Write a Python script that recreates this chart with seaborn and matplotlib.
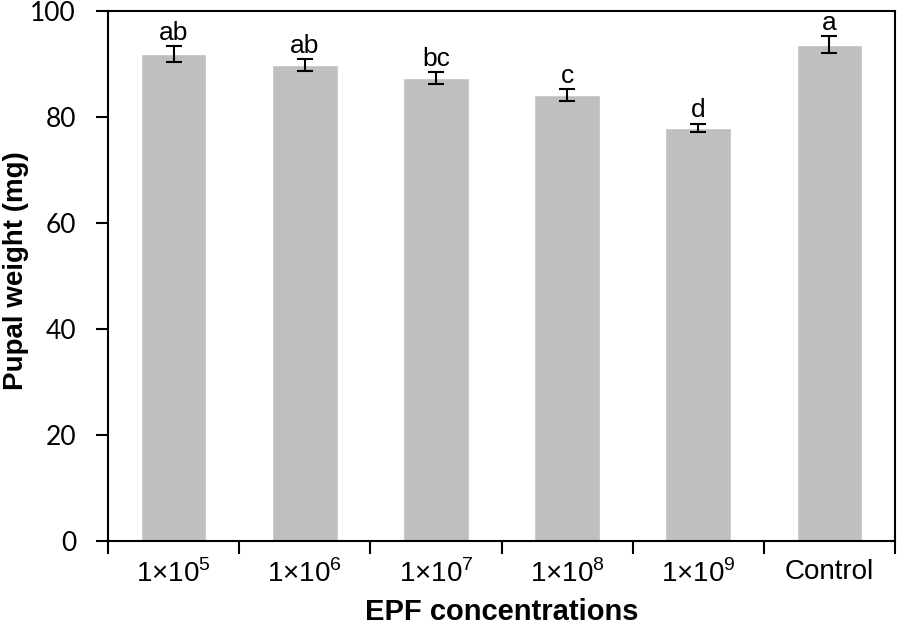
import seaborn as sns
import matplotlib.pyplot as plt
from matplotlib.ticker import MultipleLocator, FixedLocator

# values
concentrations = ["1×10$^5$", "1×10$^6$", "1×10$^7$", "1×10$^8$", "1×10$^9$", "Control"]
pupal_weight = [91.9, 89.8, 87.4, 84.2, 77.9, 93.6]
std_err = [1.5, 1.1, 1.1, 1.1, 0.8, 1.6]
letters = ["ab", "ab", "bc", "c", "d", "a"]


def plot_data(output):
    sns.set_style("ticks")
    plt.rcParams["font.family"] = ["Liberation Sans", "DejaVu Sans"]
    plt.rcParams["mathtext.fontset"] = "custom"
    plt.rcParams["mathtext.rm"] = "Liberation Sans"
    for key in ["text.color", "axes.labelcolor", "xtick.color", "ytick.color"]:
        plt.rcParams[key] = "black"

    fig = plt.figure(figsize=(8.97, 6.28), dpi=100)
    ax = fig.add_axes([0.1204, 0.1385, 0.8774, 0.844])

    sns.barplot(x=concentrations, y=pupal_weight, color="#BFBFBF", width=0.5,
                saturation=1, ax=ax)

    # error bars and significance letters on top of each bar
    for i, bar in enumerate(ax.patches):
        xc = bar.get_x() + bar.get_width() / 2
        ax.errorbar(xc, pupal_weight[i], yerr=std_err[i], color="black",
                    elinewidth=1.5, capsize=5.5, capthick=1.5, fmt="none")
        ax.annotate(letters[i], (xc, pupal_weight[i] + std_err[i]),
                    xytext=(0, 1), textcoords="offset points",
                    ha="center", va="bottom", fontsize=19)

    ax.set_xlim(-0.5, 5.5)
    ax.set_ylim(0, 100)
    ax.yaxis.set_major_locator(MultipleLocator(20))

    # tick marks sit between the categories, labels in the middle
    ax.xaxis.set_minor_locator(FixedLocator([k - 0.5 for k in range(7)]))
    ax.tick_params(axis="x", which="major", length=0, pad=13, labelsize=20)
    ax.tick_params(axis="x", which="minor", length=9, width=1.5, direction="out")
    ax.tick_params(axis="y", length=9, width=1.5, direction="out", pad=14)
    for lab in ax.get_yticklabels():
        lab.set_fontfamily("Lato")
        lab.set_fontsize(19)

    for side in ["left", "bottom", "top", "right"]:
        ax.spines[side].set_visible(True)
        ax.spines[side].set_linewidth(1.5)
        ax.spines[side].set_color("black")

    ax.set_xlabel("EPF concentrations", fontsize=21, fontweight="bold", va="baseline")
    ax.xaxis.set_label_coords(0.5, -0.149)
    ax.set_ylabel("Pupal weight (mg)", fontsize=20, fontweight="bold", va="center")
    ax.yaxis.set_label_coords(-0.117, 0.51)

    fig.savefig(output, dpi=100)


def main():
    plot_data("out.png")


if __name__ == "__main__":
    main()
